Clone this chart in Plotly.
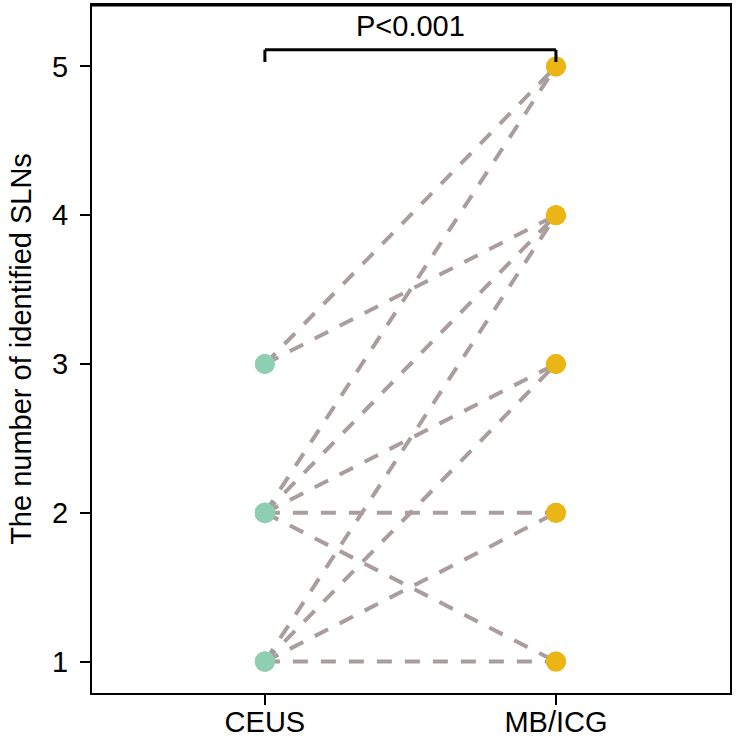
import plotly.graph_objects as go

# Data
categories = ["CEUS", "MB/ICG"]
ceus_values = [3, 3, 2, 2, 2, 2, 2, 1, 1, 1, 1]
mbicg_values = [5, 4, 5, 4, 3, 2, 1, 4, 3, 2, 1]
y_ticks = [1, 2, 3, 4, 5]
p_label = "P<0.001"

FONT = "Liberation Sans, Arial, Helvetica, sans-serif"
FS = 29
LINE_COLOR = "#a99d9d"
CEUS_COLOR = "#8fcfb1"
MB_COLOR = "#ebb516"

xpos = list(range(len(categories)))

fig = go.Figure()

for a, b in zip(ceus_values, mbicg_values):
    fig.add_trace(go.Scatter(
        x=xpos, y=[a, b], mode="lines",
        line=dict(color=LINE_COLOR, width=4, dash="15px,13px"),
        hoverinfo="skip", showlegend=False,
    ))

fig.add_trace(go.Scatter(
    x=[xpos[0]] * len(ceus_values), y=ceus_values, mode="markers",
    marker=dict(color=CEUS_COLOR, size=20, line=dict(width=0)),
    showlegend=False,
))
fig.add_trace(go.Scatter(
    x=[xpos[1]] * len(mbicg_values), y=mbicg_values, mode="markers",
    marker=dict(color=MB_COLOR, size=20, line=dict(width=0)),
    showlegend=False,
))

# significance bracket
bracket_y = 5.112
tick_bottom = 5.03
for x0, x1, y0, y1 in [(xpos[0], xpos[1], bracket_y, bracket_y),
                       (xpos[0], xpos[0], bracket_y, tick_bottom),
                       (xpos[1], xpos[1], bracket_y, tick_bottom)]:
    fig.add_shape(type="line", x0=x0, x1=x1, y0=y0, y1=y1,
                  xref="x", yref="y", line=dict(color="black", width=3))
fig.add_annotation(x=(xpos[0] + xpos[1]) / 2, y=5.275, text=p_label, showarrow=False,
                   xref="x", yref="y", yanchor="middle",
                   font=dict(family=FONT, size=FS, color="black"))

# plot frame (top edge)
fig.add_shape(type="line", xref="x domain", yref="y domain", x0=0, x1=1, y0=1, y1=1,
              line=dict(color="black", width=3))

fig.update_layout(
    width=743, height=755,
    margin=dict(l=92, r=13, t=3, b=62),
    paper_bgcolor="white", plot_bgcolor="white",
    font=dict(family=FONT, size=FS, color="black"),
    xaxis=dict(
        range=[-0.594, 1.598], tickvals=xpos, ticktext=categories,
        showline=True, mirror=True, linecolor="black", linewidth=2,
        ticks="outside", ticklen=10, tickwidth=1.5, tickcolor="black",
        showgrid=False, zeroline=False, ticklabelstandoff=-8,
        tickfont=dict(family=FONT, size=FS, color="black"),
    ),
    yaxis=dict(
        range=[0.789, 5.413], tickvals=y_ticks,
        showline=True, mirror=True, linecolor="black", linewidth=2,
        ticks="outside", ticklen=10, tickwidth=1.5, tickcolor="black",
        showgrid=False, zeroline=False, ticklabelstandoff=6,
        tickfont=dict(family=FONT, size=FS, color="black"),
        title=dict(text="The number of identified SLNs", standoff=12,
                   font=dict(family=FONT, size=FS, color="black")),
    ),
)

fig.write_html("out.html", config={"displayModeBar": False},
               post_script="document.body.style.margin='0px';")
